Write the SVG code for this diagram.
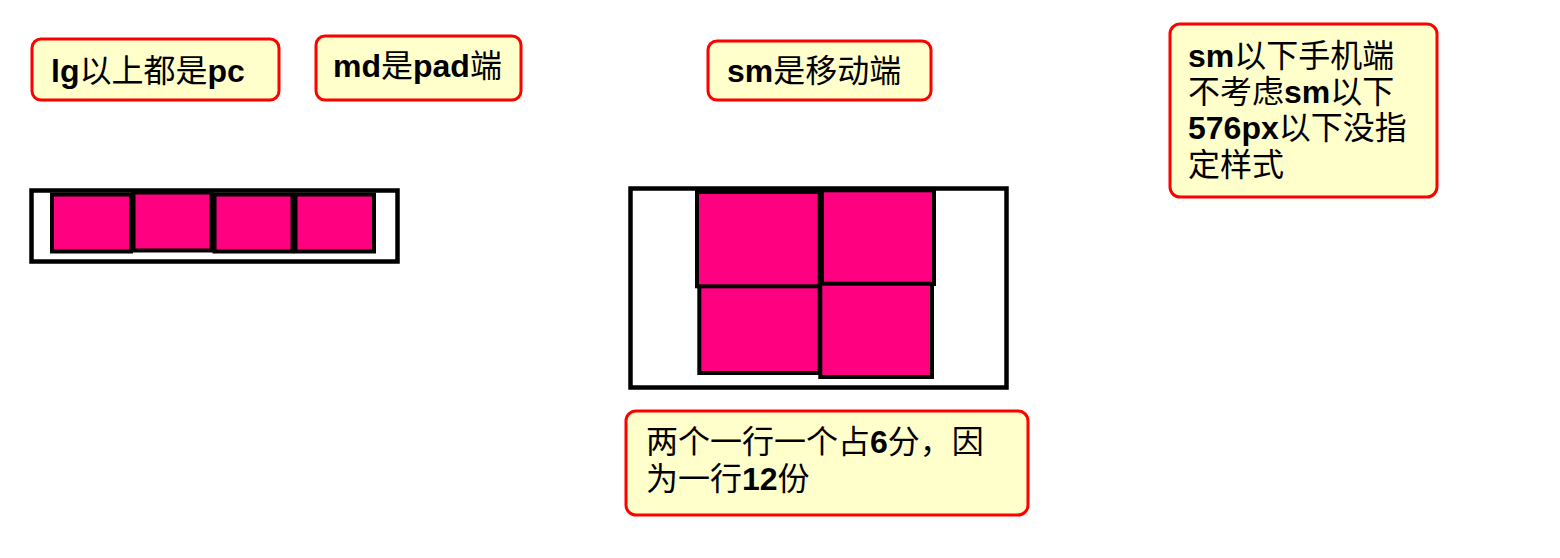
<svg xmlns="http://www.w3.org/2000/svg" width="1560" height="558" viewBox="0 0 1560 558">
<style>
.note{fill:#FFFFCC;stroke:#FF0000;stroke-width:3}
.frame{fill:#FFFFFF;stroke:#000000;stroke-width:4.5}
.cell{fill:#FF0080;stroke:#000000;stroke-width:4}
text{font-family:"Liberation Sans","Noto Sans CJK SC",sans-serif;font-size:32px;fill:#000000}
.b{font-weight:bold}
</style>
<rect width="1560" height="558" fill="#FFFFFF"/>
<g id="note-lg">
<rect class="note" x="32" y="39" width="247" height="61" rx="9"/>
<text x="51" y="82"><tspan class="b">lg</tspan>以上都是<tspan class="b">pc</tspan></text>
</g>
<g id="note-md">
<rect class="note" x="316" y="36" width="205" height="64" rx="9"/>
<text x="333" y="77"><tspan class="b">md</tspan>是<tspan class="b">pad</tspan>端</text>
</g>
<g id="note-sm">
<rect class="note" x="708" y="41" width="223" height="59" rx="9"/>
<text x="727" y="82"><tspan class="b">sm</tspan>是移动端</text>
</g>
<g id="note-xs">
<rect class="note" x="1170" y="24" width="267" height="173" rx="10"/>
<text x="1188" y="67"><tspan class="b">sm</tspan>以下手机端</text>
<text x="1188" y="103">不考虑<tspan class="b">sm</tspan>以下</text>
<text x="1188" y="139"><tspan class="b">576px</tspan>以下没指</text>
<text x="1188" y="176">定样式</text>
</g>
<g id="note-grid">
<rect class="note" x="626" y="411" width="402" height="104" rx="10"/>
<text x="646" y="453">两个一行一个占<tspan class="b">6</tspan>分，因</text>
<text x="646" y="490">为一行<tspan class="b">12</tspan>份</text>
</g>
<g id="layout-lg">
<rect class="frame" x="31.5" y="190.5" width="366" height="71"/>
<rect class="cell" x="52" y="194.5" width="79" height="57"/>
<rect class="cell" x="133.5" y="192.5" width="78" height="58"/>
<rect class="cell" x="214.5" y="194.5" width="78" height="57"/>
<rect class="cell" x="295.5" y="194.5" width="78.5" height="57"/>
</g>
<g id="layout-sm">
<rect class="frame" x="630.5" y="188.5" width="376" height="199"/>
<rect class="cell" x="699.3" y="284.7" width="120.4" height="88.3"/>
<rect class="cell" x="697" y="192" width="122.7" height="94.3"/>
<rect class="cell" x="822" y="190.3" width="112" height="93.7"/>
<rect class="cell" x="820.3" y="283.7" width="111.7" height="93.3"/>
</g>
</svg>
